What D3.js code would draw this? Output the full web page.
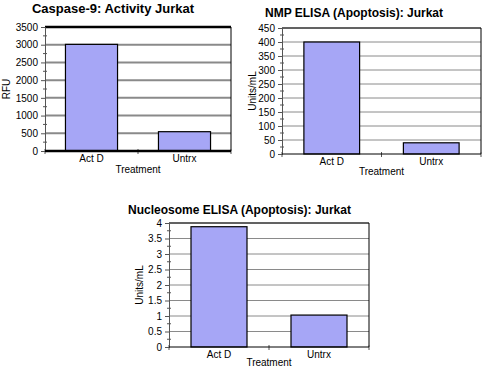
<!DOCTYPE html>
<html>
<head>
<meta charset="utf-8">
<script src="https://cdn.jsdelivr.net/npm/d3@7"></script>
<style>
  body { margin: 0; background: #fff; }
  svg { display: block; font-family: "Liberation Sans", Arial, sans-serif; }
</style>
</head>
<body>
<svg id="chart" width="484" height="370"></svg>
<script>
// data
const categories = ["Act D", "Untrx"];

const caspaseValues = [3010, 545];
const caspaseTicks = [0, 500, 1000, 1500, 2000, 2500, 3000, 3500];

const nmpValues = [400, 40];
const nmpTicks = [0, 50, 100, 150, 200, 250, 300, 350, 400, 450];

const nucleosomeValues = [3.88, 1.03];
const nucleosomeTicks = [0, 0.5, 1, 1.5, 2, 2.5, 3, 3.5, 4];

const svg = d3.select("#chart");

function drawChart(cfg) {
    let g = svg.append("g");
    let x0 = cfg.box[0], x1 = cfg.box[1], y0 = cfg.box[2], y1 = cfg.box[3];
    let ticks = cfg.ticks;

    let xScale = d3.scaleBand()
        .domain(categories)
        .range([x0, x1])
        .paddingInner(0.44)
        .paddingOuter(0.22);

    let yScale = d3.scaleLinear()
        .domain([0, ticks[ticks.length - 1]])
        .range([y1, y0]);

    // gridlines
    g.selectAll(".grid")
        .data(ticks.slice(1))
        .enter().append("line")
        .attr("x1", x0).attr("x2", x1)
        .attr("y1", d => yScale(d)).attr("y2", d => yScale(d))
        .attr("stroke", "#8a8a8a")
        .attr("stroke-width", cfg.gridWidth);

    // frame top/right
    g.append("line").attr("x1", x0).attr("x2", x1).attr("y1", y0).attr("y2", y0)
        .attr("stroke", "#000").attr("stroke-width", cfg.heavy);
    g.append("line").attr("x1", x1).attr("x2", x1).attr("y1", y0).attr("y2", y1)
        .attr("stroke", "#000").attr("stroke-width", 1);

    // bars
    g.selectAll(".bar")
        .data(cfg.values)
        .enter().append("rect")
        .attr("x", (d, i) => xScale(categories[i]))
        .attr("width", xScale.bandwidth())
        .attr("y", d => yScale(d))
        .attr("height", d => y1 - yScale(d))
        .attr("fill", "#a6a6f6")
        .attr("stroke", "#000")
        .attr("stroke-width", 1.2);

    // y axis
    let yAxis = g.append("g")
        .attr("transform", "translate(" + x0 + ",0)")
        .call(d3.axisLeft(yScale).tickValues(ticks).tickSize(4).tickPadding(3)
            .tickFormat(d3.format("")));
    yAxis.select(".domain").attr("stroke", "#555");
    yAxis.selectAll(".tick line").attr("stroke", "#555");
    yAxis.selectAll("text").attr("font-size", 10).attr("fill", "#000")
        .attr("font-family", "Liberation Sans, Arial, sans-serif");

    // minor ticks halfway between majors
    let step = ticks[1] - ticks[0];
    g.selectAll(".minor")
        .data(ticks.slice(1).map(d => d - step / 2))
        .enter().append("line")
        .attr("x1", x0 - 2).attr("x2", x0 + 2)
        .attr("y1", d => yScale(d)).attr("y2", d => yScale(d))
        .attr("stroke", "#555");

    // x axis
    g.selectAll(".xtick")
        .data([x0, (x0 + x1) / 2, x1])
        .enter().append("line")
        .attr("x1", d => d).attr("x2", d => d)
        .attr("y1", y1 - 2).attr("y2", y1 + 3)
        .attr("stroke", "#555");
    g.append("line").attr("x1", x0).attr("x2", x1).attr("y1", y1).attr("y2", y1)
        .attr("stroke", "#000").attr("stroke-width", cfg.heavy);

    g.selectAll(".cat")
        .data(categories)
        .enter().append("text")
        .attr("x", d => xScale(d) + xScale.bandwidth() / 2)
        .attr("y", y1 + 11)
        .attr("text-anchor", "middle")
        .attr("font-size", 10)
        .text(d => d);

    g.append("text")
        .attr("x", (x0 + x1) / 2)
        .attr("y", y1 + cfg.xLabelGap)
        .attr("text-anchor", "middle")
        .attr("font-size", 10)
        .text("Treatment");

    g.append("text")
        .attr("transform", "translate(" + cfg.yLabelX + "," + (y0 + y1) / 2 + ") rotate(-90)")
        .attr("text-anchor", "middle")
        .attr("font-size", 10)
        .text(cfg.yLabel);

    g.append("text")
        .attr("x", cfg.titleX)
        .attr("y", cfg.titleY)
        .attr("text-anchor", "middle")
        .attr("font-size", cfg.titleSize)
        .attr("font-weight", "bold")
        .text(cfg.title);
}

drawChart({
    title: "Caspase-9: Activity Jurkat", titleX: 113, titleY: 13, titleSize: 13,
    yLabel: "RFU", yLabelX: 10, xLabelGap: 22,
    values: caspaseValues, ticks: caspaseTicks,
    box: [45, 231, 27, 151], gridWidth: 2, heavy: 2.5
});

drawChart({
    title: "NMP ELISA (Apoptosis): Jurkat", titleX: 354, titleY: 17, titleSize: 12,
    yLabel: "Units/mL", yLabelX: 256, xLabelGap: 21,
    values: nmpValues, ticks: nmpTicks,
    box: [282, 481, 28, 154], gridWidth: 1, heavy: 1
});

drawChart({
    title: "Nucleosome ELISA (Apoptosis): Jurkat", titleX: 239.5, titleY: 214, titleSize: 12,
    yLabel: "Units/mL", yLabelX: 143, xLabelGap: 19,
    values: nucleosomeValues, ticks: nucleosomeTicks,
    box: [169, 369, 223, 347], gridWidth: 1, heavy: 1
});
</script>
</body>
</html>
